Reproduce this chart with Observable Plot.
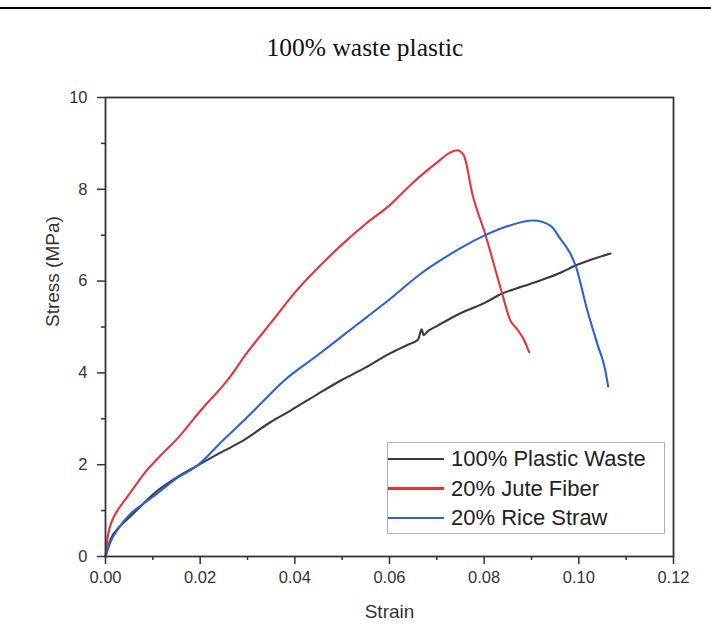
<!DOCTYPE html>
<html><head><meta charset="utf-8">
<script src="https://cdn.jsdelivr.net/npm/d3@7"></script>
<script src="https://cdn.jsdelivr.net/npm/@observablehq/plot@0.6"></script>
<style>
body{margin:0;background:#fff;width:711px;height:626px;overflow:hidden;position:relative;}
#rule{position:absolute;left:0;top:7px;width:711px;height:2px;background:#000;}
#title{position:absolute;left:0;width:730px;top:33px;text-align:center;font-family:"Liberation Serif","Times New Roman",serif;font-size:25.5px;color:#111;line-height:30px;}
#chart{position:absolute;left:0;top:70px;}
#legend{position:absolute;left:387px;top:442px;width:276px;height:90px;border:1px solid #b0b0b0;background:#fff;font-family:"Liberation Sans",Arial,sans-serif;font-size:22px;color:#222;}
.row{position:absolute;left:0;height:30px;display:flex;align-items:center;}
.row span.sw{display:inline-block;width:56px;height:2.5px;margin-right:7px;}
</style></head>
<body>
<div id="rule"></div>
<div id="title">100% waste plastic</div>
<div id="chart"></div>
<div id="legend"></div>
<script>
// Series data (strain, stress in MPa)
const plasticStrain = [0, 0.001, 0.003, 0.005, 0.008, 0.010, 0.015, 0.0194, 0.025, 0.0285, 0.0349, 0.0391, 0.045, 0.050, 0.055, 0.060, 0.064, 0.066, 0.0668, 0.0672, 0.068, 0.070, 0.075, 0.080, 0.0838, 0.088, 0.092, 0.0965, 0.0993, 0.103, 0.1067];
const plasticStress = [0, 0.35, 0.65, 0.85, 1.15, 1.35, 1.72, 1.98, 2.3, 2.49, 2.93, 3.18, 3.55, 3.85, 4.12, 4.42, 4.62, 4.72, 4.95, 4.82, 4.9, 5.02, 5.3, 5.52, 5.73, 5.88, 6.02, 6.2, 6.34, 6.48, 6.6];

const juteStrain = [0, 0.0005, 0.0014, 0.0025, 0.0039, 0.006, 0.0085, 0.0109, 0.0158, 0.0201, 0.0257, 0.030, 0.035, 0.040, 0.045, 0.050, 0.055, 0.060, 0.065, 0.070, 0.0728, 0.0743, 0.0757, 0.0775, 0.0803, 0.0838, 0.0855, 0.087, 0.0885, 0.0895];
const juteStress = [0, 0.45, 0.78, 1.0, 1.2, 1.5, 1.85, 2.12, 2.64, 3.18, 3.83, 4.45, 5.1, 5.75, 6.3, 6.8, 7.25, 7.65, 8.15, 8.58, 8.8, 8.85, 8.74, 7.9, 7.0, 5.73, 5.15, 4.95, 4.7, 4.45];

const riceStrain = [0, 0.001, 0.003, 0.0053, 0.008, 0.0109, 0.015, 0.0194, 0.025, 0.0285, 0.033, 0.0377, 0.045, 0.050, 0.055, 0.060, 0.0666, 0.070, 0.075, 0.080, 0.085, 0.0904, 0.094, 0.0961, 0.0982, 0.0993, 0.1018, 0.104, 0.1055, 0.1062];
const riceStress = [0, 0.3, 0.65, 0.93, 1.15, 1.37, 1.7, 1.98, 2.55, 2.89, 3.35, 3.83, 4.4, 4.8, 5.2, 5.6, 6.16, 6.4, 6.72, 6.99, 7.2, 7.32, 7.21, 6.92, 6.6, 6.34, 5.36, 4.6, 4.1, 3.7];

const seriesNames = ["100% Plastic Waste", "20% Jute Fiber", "20% Rice Straw"];
const seriesColors = ["#3a3a3a", "#e5333a", "#2a62d4"];

const xMajor = [0, 0.02, 0.04, 0.06, 0.08, 0.10, 0.12];
const xMinor = [0.01, 0.03, 0.05, 0.07, 0.09, 0.11];
const yMajor = [0, 2, 4, 6, 8, 10];
const yMinor = [1, 3, 5, 7, 9];

const toRows = (xs, ys, name) => xs.map((x, i) => ({strain: x, stress: ys[i], series: name}));
const data = [
  ...toRows(plasticStrain, plasticStress, seriesNames[0]),
  ...toRows(juteStrain, juteStress, seriesNames[1]),
  ...toRows(riceStrain, riceStress, seriesNames[2])
];

const axisColor = "#333";
const chart = Plot.plot({
  width: 711, height: 556,
  marginLeft: 105, marginRight: 38, marginTop: 27, marginBottom: 70,
  style: {fontFamily: '"Liberation Sans", Arial, sans-serif', background: "transparent"},
  x: {domain: [0, 0.12]},
  y: {domain: [0, 10]},
  color: {domain: seriesNames, range: seriesColors},
  marks: [
    Plot.line(data, {x: "strain", y: "stress", z: "series", stroke: "series", strokeWidth: 2.1, curve: "monotone-x"}),
    Plot.frame({stroke: axisColor, strokeWidth: 1.8}),
    Plot.axisX(xMajor, {tickSize: 8, tickPadding: 7, tickFormat: d3.format(".2f"), fontSize: 16.5, color: axisColor, strokeWidth: 1.5, label: null}),
    Plot.axisX(xMinor, {tickSize: 4, tickFormat: () => "", color: axisColor, strokeWidth: 1.5, label: null}),
    Plot.axisY(yMajor, {tickSize: 8, tickPadding: 10, tickFormat: d3.format("d"), fontSize: 16.5, color: axisColor, strokeWidth: 1.5, label: null}),
    Plot.axisY(yMinor, {tickSize: 4, tickFormat: () => "", color: axisColor, strokeWidth: 1.5, label: null}),
    Plot.text(["Strain"], {frameAnchor: "bottom", dy: 61, fontSize: 19, fill: axisColor}),
    Plot.text(["Stress (MPa)"], {frameAnchor: "left", dx: -53, rotate: -90, fontSize: 19, fill: axisColor})
  ]
});
document.getElementById("chart").appendChild(chart);

const legend = document.getElementById("legend");
seriesNames.forEach((name, i) => {
  const row = document.createElement("div");
  row.className = "row";
  row.style.top = (1 + i * 29.5) + "px";
  const sw = document.createElement("span");
  sw.className = "sw";
  sw.style.background = seriesColors[i];
  row.appendChild(sw);
  row.appendChild(document.createTextNode(name));
  legend.appendChild(row);
});
</script>
</body></html>
